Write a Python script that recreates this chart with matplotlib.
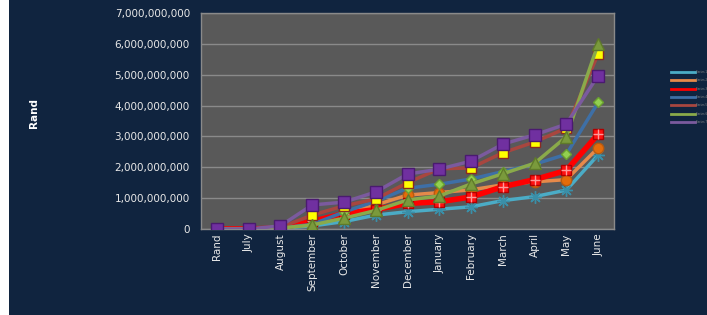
import matplotlib.pyplot as plt
from matplotlib.lines import Line2D
from matplotlib.ticker import FuncFormatter, MultipleLocator
from matplotlib.patches import Rectangle

# months on the x axis
months = ['Rand', 'July', 'August', 'September', 'October', 'November', 'December',
          'January', 'February', 'March', 'April', 'May', 'June']

# cumulative values per series, in billions of Rand
teal = [0, 0, 0.03, 0.10, 0.24, 0.45, 0.56, 0.64, 0.72, 0.92, 1.05, 1.26, 2.40]
orange = [0, 0, 0.03, 0.15, 0.50, 0.78, 1.10, 1.18, 1.27, 1.43, 1.53, 1.60, 2.63]
red = [0, 0, 0.03, 0.25, 0.50, 0.63, 0.83, 0.88, 1.04, 1.37, 1.60, 1.90, 3.07]
blue = [0, 0, 0.03, 0.15, 0.55, 0.90, 1.32, 1.45, 1.62, 1.86, 2.10, 2.42, 4.10]
darkred = [0, 0, 0.05, 0.45, 0.75, 0.97, 1.50, 1.95, 1.98, 2.47, 2.82, 3.27, 5.67]
green = [0, 0, 0.03, 0.13, 0.35, 0.60, 0.94, 1.07, 1.46, 1.79, 2.13, 2.99, 6.00]
purple = [0, 0, 0.10, 0.78, 0.87, 1.20, 1.78, 1.94, 2.20, 2.75, 3.05, 3.40, 4.97]

navy = '#10243f'

fig = plt.figure(figsize=(7.07, 3.15), dpi=100, facecolor=navy)
# thin white strip on the left edge
fig.patches.append(Rectangle((0, 0), 9 / 707, 1, transform=fig.transFigure,
                             facecolor='white', edgecolor='none'))
ax = fig.add_axes([201 / 707, 86 / 315, 413 / 707, 216 / 315])
ax.set_facecolor('#595959')

x = range(len(months))
s = 1e9
ax.plot(x, [v * s for v in teal], color='#4bacc6', lw=2.5, marker=(8, 2, 0),
        ms=9, mec='#3a8fa8', mew=1, zorder=3)
ax.plot(x, [v * s for v in orange], color='#e6894a', lw=2.5, marker='o',
        ms=7.5, mfc='#e46c0a', mec='#b85a10', zorder=3)
ax.plot(x, [v * s for v in red], color='#ff0000', lw=4, marker='s',
        ms=7.5, mfc='#ff1010', mec='#b00000', zorder=3)
ax.plot(x, [v * s for v in red], ls='none', marker='+', ms=7, mec='#ff9a9a',
        mew=1, zorder=3)
ax.plot(x, [v * s for v in blue], color='#3e6fa6', lw=2.5, marker='D',
        ms=5.5, mfc='#92d050', mec='#6aa030', zorder=3)
ax.plot(x, [v * s for v in darkred], color='#a8463f', lw=2.5, marker='s',
        ms=7, mfc='#ffff00', mec='#8b2a20', zorder=3)
ax.plot(x, [v * s for v in green], color='#8aaa4a', lw=2.5, marker='^',
        ms=8.5, mfc='#7a9a3c', mec='#5f7a2a', zorder=3)
ax.plot(x, [v * s for v in purple], color='#7b5a9e', lw=2.5, marker='s',
        ms=8.5, mfc='#7030a0', mec='#4a1a70', zorder=3)

ax.set_xlim(-0.5, len(months) - 0.5)
ax.set_ylim(0, 7e9)
ax.yaxis.set_major_locator(MultipleLocator(1e9))
ax.yaxis.set_major_formatter(FuncFormatter(lambda v, p: f'{v:,.0f}'))
ax.set_xticks(list(x))
ax.set_xticklabels(months, rotation=90)
ax.tick_params(colors='#e8e8e8', labelsize=7.5, length=0, pad=8)
ax.tick_params(axis='x', pad=3)
ax.grid(axis='y', color='#8a8a8a', lw=1)
ax.set_axisbelow(True)
for sp in ax.spines.values():
    sp.set_color('#8a8a8a')
    sp.set_linewidth(1)

fig.text(34 / 707, 1 - 113 / 315, 'Rand', rotation=90, color='white',
         fontsize=7.5, fontweight='bold', ha='center', va='center')

# legend: lines with tiny unreadable labels
names = ['Series 1', 'Series 2', 'Series 3', 'Series 4', 'Series 5', 'Series 6', 'Series 7']
cols = ['#4bacc6', '#e6894a', '#ff0000', '#3e6fa6', '#a8463f', '#8aaa4a', '#7b5a9e']
handles = [Line2D([], [], color=c, lw=2) for c in cols]
fig.legend(handles, names, loc='center left', bbox_to_anchor=(671 / 707, 1 - 97 / 315),
           frameon=False, fontsize=2, labelcolor='#8a8a8a', handlelength=8.6,
           handletextpad=0.5, labelspacing=1.6, borderpad=0, borderaxespad=0)

fig.savefig('out.png', dpi=100, facecolor=fig.get_facecolor())
